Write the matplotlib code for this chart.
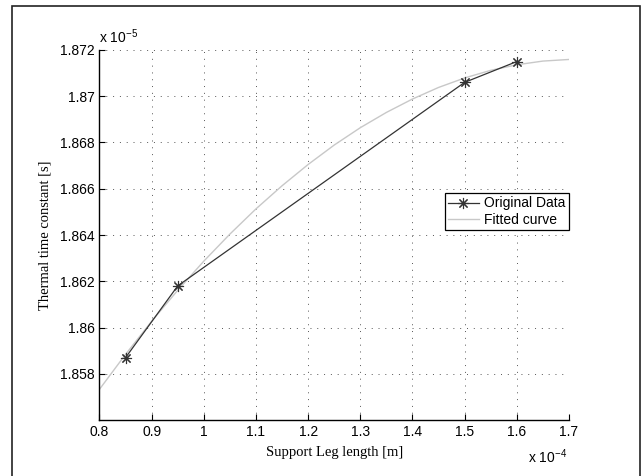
import matplotlib
matplotlib.use('Agg')
import matplotlib.pyplot as plt
from matplotlib.patches import Rectangle

# Measured points (x in units of 1e-4 m, y in units of 1e-5 s)
leg_length = [0.85, 0.95, 1.5, 1.6]
time_const = [1.8587, 1.8618, 1.8706, 1.8715]

# Fitted curve
fit_x = [0.80, 0.85, 0.90, 0.95, 1.00, 1.05, 1.10, 1.15, 1.20, 1.25,
         1.30, 1.35, 1.40, 1.45, 1.50, 1.55, 1.60, 1.65, 1.70]
fit_y = [1.85733, 1.85884, 1.86027, 1.86161, 1.86287, 1.86404, 1.86513, 1.86613,
         1.86705, 1.86789, 1.86864, 1.86930, 1.86988, 1.87038, 1.87079, 1.87112,
         1.87136, 1.87152, 1.87159]

x_ticks = [0.8, 0.9, 1.0, 1.1, 1.2, 1.3, 1.4, 1.5, 1.6, 1.7]
x_labels = ['0.8', '0.9', '1', '1.1', '1.2', '1.3', '1.4', '1.5', '1.6', '1.7']
y_ticks = [1.858, 1.860, 1.862, 1.864, 1.866, 1.868, 1.870, 1.872]
y_labels = ['1.858', '1.86', '1.862', '1.864', '1.866', '1.868', '1.87', '1.872']

plt.rcParams['font.family'] = ['Liberation Sans', 'DejaVu Sans']
plt.rcParams['mathtext.default'] = 'regular'

fig = plt.figure(figsize=(6.44, 4.76), dpi=100)
ax = fig.add_axes([0.1545, 0.1176, 0.729, 0.7774])

# outer frame of the exported figure
fig.patches.append(Rectangle((12 / 644, -0.01), 628 / 644, 1 - 6 / 476 + 0.01,
                             transform=fig.transFigure, fill=False,
                             edgecolor='#222222', linewidth=1.2))

ax.plot(leg_length, time_const, color='#333333', linewidth=0.9, marker=(8, 2, 0),
        markersize=8, markeredgewidth=0.8, label='Original Data', zorder=3)
ax.plot(fit_x, fit_y, color='#c8c8c8', linewidth=1.0, label='Fitted curve', zorder=2)

ax.set_xlim(0.8, 1.7)
ax.set_ylim(1.856, 1.872)
ax.set_xticks(x_ticks)
ax.set_xticklabels(x_labels)
ax.set_yticks(y_ticks)
ax.set_yticklabels(y_labels)
ax.tick_params(direction='in', length=4, width=0.8, labelsize=10, colors='black')

for side in ['top', 'right']:
    ax.spines[side].set_visible(False)
for side in ['left', 'bottom']:
    ax.spines[side].set_linewidth(1.0)

ax.grid(True, linestyle=(0, (1, 6)), linewidth=0.7, color='#555555')

ax.set_xlabel('Support Leg length [m]', family='Liberation Serif', fontsize=10.5, labelpad=5)
ax.set_ylabel('Thermal time constant [s]', family='Liberation Serif', fontsize=10.5, labelpad=6)

ax.text(0.0, 1.012, r'x 10$^{-5}$', transform=ax.transAxes, fontsize=10,
        ha='left', va='bottom')
ax.text(0.995, -0.075, r'x 10$^{-4}$', transform=ax.transAxes, fontsize=10,
        ha='right', va='top')

leg = ax.legend(loc='upper right', bbox_to_anchor=(1.0, 0.6135), fontsize=10,
                frameon=True, fancybox=False, framealpha=1, edgecolor='black',
                borderpad=0.25, labelspacing=0.15, handlelength=2.2,
                handletextpad=0.4, borderaxespad=0)
leg.get_frame().set_linewidth(0.9)

fig.savefig('out.png', dpi=100)
